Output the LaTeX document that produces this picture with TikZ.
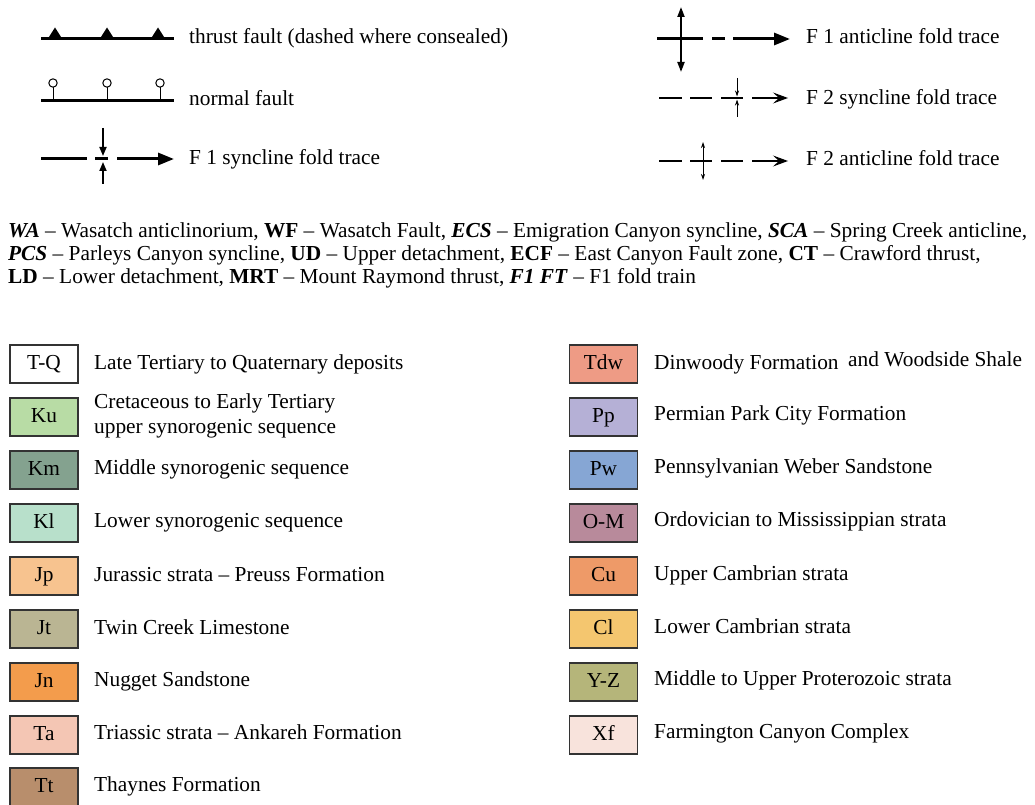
\documentclass[tikz,border=0pt]{standalone}
\usepackage{fontspec}
\setmainfont{Liberation Serif}
\usetikzlibrary{arrows.meta}
\definecolor{cKu}{HTML}{B8DCA5}
\definecolor{cKm}{HTML}{84A28F}
\definecolor{cKl}{HTML}{B8E0CB}
\definecolor{cJp}{HTML}{F7C38F}
\definecolor{cJt}{HTML}{BAB593}
\definecolor{cJn}{HTML}{F39C4C}
\definecolor{cTa}{HTML}{F4C6B4}
\definecolor{cTt}{HTML}{B88E6C}
\definecolor{cTdw}{HTML}{EE9B85}
\definecolor{cPp}{HTML}{B5B0D6}
\definecolor{cPw}{HTML}{86A6D4}
\definecolor{cOM}{HTML}{B88A9B}
\definecolor{cCu}{HTML}{EE9A68}
\definecolor{cCl}{HTML}{F4C66F}
\definecolor{cYZ}{HTML}{B5B57A}
\definecolor{cXf}{HTML}{F8E3DC}
\definecolor{boxline}{HTML}{333333}
\begin{document}
\begin{tikzpicture}[x=1pt,y=-1pt,
  lbl/.style={anchor=west, inner sep=0pt, text height=14pt, text depth=4pt, font=\fontsize{21.35}{23}\selectfont},
  para/.style={anchor=base west, inner sep=0pt, font=\fontsize{21.35}{23}\selectfont},
  unit/.style={draw=boxline, line width=1.5pt, minimum width=68pt, minimum height=38pt, inner sep=0pt, text height=14pt, text depth=4pt, font=\fontsize{21.35}{23}\selectfont},
  thick line/.style={line width=3pt},
  thin dash/.style={line width=1.3pt},
  bigtip/.style={-{Triangle[length=16pt,width=12pt]}},
  chevron/.style={-{Stealth[length=15pt,width=11pt,inset=6pt]}},
  fine arrow/.style={line width=0.8pt, -{Stealth[length=6pt,width=4pt]}},
]
\useasboundingbox (0,0) rectangle (1035,805);
% ---- thrust fault
\draw[thick line] (41,38.5) coordinate (tf1) -- (174,38.5) coordinate (tf2);
\foreach \x in {55,107,158} \fill (\x-7,38.5) -- (\x,27.5) -- (\x+7,38.5) -- cycle;
\node[lbl] (tft) at (189,38.5) {thrust fault (dashed where consealed)};
% ---- normal fault
\draw[line width=2.5pt] (41,100.5) coordinate (nf1) -- (174,100.5) coordinate (nf2);
\foreach \x in {53,107,160} {
  \draw[line width=1pt] (\x,87) -- (\x,100);
  \draw[line width=1pt, fill=white] (\x,83) circle (4.2);
}
\node[lbl] (nft) at (189,100.5) {normal fault};
% ---- F1 syncline
\draw[thick line] (41,159) -- (87,159);
\draw[thick line] (95,159) -- (108,159);
\draw[thick line, bigtip] (117,159) -- (174,159);
\draw[line width=1.8pt, -{Triangle[length=9pt,width=7pt]}] (103,128) -- (103,156);
\draw[line width=1.8pt, -{Triangle[length=9pt,width=7pt]}] (103,184) -- (103,162);
\node[lbl] (f1s) at (189,160) {F 1 syncline fold trace};
% ---- F1 anticline
\draw[thick line] (657,39) -- (703,39);
\draw[thick line] (712,39) -- (725,39);
\draw[thick line, bigtip] (733,39) -- (790,39);
\draw[line width=2pt, {Triangle[length=10pt,width=7pt]}-{Triangle[length=10pt,width=7pt]}] (681,7) -- (681,72);
\node[lbl] (f1a) at (806,38.5) {F 1 anticline fold trace};
% ---- F2 syncline
\foreach \a/\b in {659/682,690/712,721/743} \draw[thin dash] (\a,98) -- (\b,98);
\draw[thin dash, chevron] (752,98) -- (788,98);
\draw[fine arrow] (737,78) -- (737,96.5);
\draw[fine arrow] (737,117) -- (737,99.5);
\node[lbl] (f2s) at (806,99.5) {F 2 syncline fold trace};
% ---- F2 anticline
\foreach \a/\b in {659/682,690/712,721/743} \draw[thin dash] (\a,161) -- (\b,161);
\draw[thin dash, chevron] (752,161) -- (788,161);
\draw[line width=0.8pt, {Stealth[length=6pt,width=4pt]}-{Stealth[length=6pt,width=4pt]}] (703,142) -- (703,180);
\node[lbl] (f2a) at (806,160.5) {F 2 anticline fold trace};
% ---- abbreviations
\node[para] (p1) at (8,237) {\textbf{\textit{WA}} – Wasatch anticlinorium, \textbf{WF} – Wasatch Fault, \textbf{\textit{ECS}} – Emigration Canyon syncline, \textbf{\textit{SCA}} – Spring Creek anticline,};
\node[para] (p2) at (8,260) {\textbf{\textit{PCS}} – Parleys Canyon syncline, \textbf{UD} – Upper detachment, \textbf{ECF} – East Canyon Fault zone, \textbf{CT} – Crawford thrust,};
\node[para] (p3) at (8,283) {\textbf{LD} – Lower detachment, \textbf{MRT} – Mount Raymond thrust, \textbf{\textit{F1 FT}} – F1 fold train};
% ---- left column units
\node[unit, fill=white] (TQ) at (44,364) {T-Q};
\node[lbl] (TQt) at (94,364) {Late Tertiary to Quaternary deposits};
\node[unit, fill=cKu] (Ku) at (44,417) {Ku};
\node[lbl] (Kut1) at (94,403.5) {Cretaceous to Early Tertiary};
\node[lbl] (Kut2) at (94,428) {upper synorogenic sequence};
\node[unit, fill=cKm] (Km) at (44,470) {Km};
\node[lbl] (Kmt) at (94,469.5) {Middle synorogenic sequence};
\node[unit, fill=cKl] (Kl) at (44,523) {Kl};
\node[lbl] (Klt) at (94,522.5) {Lower synorogenic sequence};
\node[unit, fill=cJp] (Jp) at (44,576) {Jp};
\node[lbl] (Jpt) at (94,576.5) {Jurassic strata – Preuss Formation};
\node[unit, fill=cJt] (Jt) at (44,629) {Jt};
\node[lbl] (Jtt) at (94,629.5) {Twin Creek Limestone};
\node[unit, fill=cJn] (Jn) at (44,682) {Jn};
\node[lbl] (Jnt) at (94,681) {Nugget Sandstone};
\node[unit, fill=cTa] (Ta) at (44,735) {Ta};
\node[lbl] (Tat) at (94,734.5) {Triassic strata – Ankareh Formation};
\node[unit, fill=cTt] (Tt) at (44,787) {Tt};
\node[lbl] (Ttt) at (94,786.5) {Thaynes Formation};
% ---- right column units
\node[unit, fill=cTdw] (Tdw) at (603.5,364) {Tdw};
\node[lbl] (Tdwt) at (654,364) {Dinwoody Formation};
\node[lbl] (Tdwt2) at (848,361) {and Woodside Shale};
\node[unit, fill=cPp] (Pp) at (603.5,417) {Pp};
\node[lbl] (Ppt) at (654,415.5) {Permian Park City Formation};
\node[unit, fill=cPw] (Pw) at (603.5,470) {Pw};
\node[lbl] (Pwt) at (654,468.5) {Pennsylvanian Weber Sandstone};
\node[unit, fill=cOM] (OM) at (603.5,523) {O-M};
\node[lbl] (OMt) at (654,521.5) {Ordovician to Mississippian strata};
\node[unit, fill=cCu] (Cu) at (603.5,576) {Cu};
\node[lbl] (Cut) at (654,575.5) {Upper Cambrian strata};
\node[unit, fill=cCl] (Cl) at (603.5,629) {Cl};
\node[lbl] (Clt) at (654,628.5) {Lower Cambrian strata};
\node[unit, fill=cYZ] (YZ) at (603.5,682) {Y-Z};
\node[lbl] (YZt) at (654,680.5) {Middle to Upper Proterozoic strata};
\node[unit, fill=cXf] (Xf) at (603.5,735) {Xf};
\node[lbl] (Xft) at (654,733.5) {Farmington Canyon Complex};
\end{tikzpicture}
\end{document}
